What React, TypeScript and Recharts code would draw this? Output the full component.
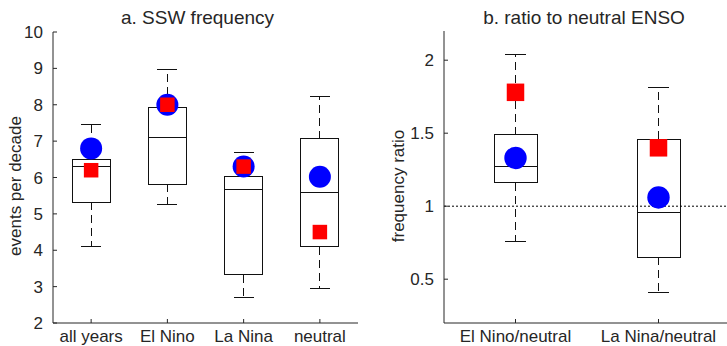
import React from "react"
import { ComposedChart, Bar, Scatter, XAxis, YAxis, ReferenceLine } from "recharts"

const FONT = '"Liberation Sans", Arial, Helvetica, sans-serif'
const INK = "#262626"

// a. SSW frequency (events per decade)
const groupsA = ["all years", "El Nino", "La Nina", "neutral"]
const lowA = [4.1, 5.27, 2.7, 2.95]
const q1A = [5.32, 5.82, 3.33, 4.1]
const medA = [6.3, 7.1, 5.68, 5.6]
const q3A = [6.5, 7.92, 6.02, 7.06]
const highA = [7.45, 8.97, 6.68, 8.23]
const circleA = [6.8, 8.0, 6.3, 6.02]
const squareA = [6.2, 8.0, 6.3, 4.5]
const ticksA = [2, 3, 4, 5, 6, 7, 8, 9, 10]

// b. ratio to neutral ENSO
const groupsB = ["El Nino/neutral", "La Nina/neutral"]
const lowB = [0.76, 0.41]
const q1B = [1.16, 0.65]
const medB = [1.27, 0.96]
const q3B = [1.49, 1.46]
const highB = [2.04, 1.81]
const circleB = [1.33, 1.06]
const squareB = [1.78, 1.4]
const ticksB = [0.5, 1, 1.5, 2]

function build(
  groups: string[], low: number[], q1: number[], med: number[],
  q3: number[], high: number[], circle: number[], square: number[]
) {
  return groups.map((group, i) => ({
    group,
    low: low[i],
    q1: q1[i],
    med: med[i],
    q3: q3[i],
    high: high[i],
    circle: circle[i],
    square: square[i],
  }))
}

const dataA = build(groupsA, lowA, q1A, medA, q3A, highA, circleA, squareA)
const dataB = build(groupsB, lowB, q1B, medB, q3B, highB, circleB, squareB)

// the bar spans low..high; inner values are placed on the same linear scale
function makeBox(capW: number) {
  return (p: any) => {
    const { x, y, width, height, payload } = p
    const { low, q1, med, q3, high } = payload
    const top = Math.min(y, y + height)
    const bottom = Math.max(y, y + height)
    const py = (v: number) => top + ((high - v) / (high - low)) * (bottom - top)
    const cx = x + width / 2
    return (
      <g stroke="#111" strokeWidth={1} shapeRendering="crispEdges">
        <line x1={cx} x2={cx} y1={py(q3)} y2={py(high)} strokeDasharray="8 5" />
        <line x1={cx} x2={cx} y1={py(q1)} y2={py(low)} strokeDasharray="8 5" />
        <line x1={cx - capW / 2} x2={cx + capW / 2} y1={py(high)} y2={py(high)} />
        <line x1={cx - capW / 2} x2={cx + capW / 2} y1={py(low)} y2={py(low)} />
        <rect x={x} y={py(q3)} width={width} height={py(q1) - py(q3)} fill="#fff" />
        <line x1={x} x2={x + width} y1={py(med)} y2={py(med)} />
      </g>
    )
  }
}

const dot = (r: number) => (p: any) => <circle cx={p.cx} cy={p.cy} r={r} fill="#0000ff" />
const square = (s: number) => (p: any) => (
  <rect x={p.cx - s / 2} y={p.cy - s / 2} width={s} height={s} fill="#ff0000" />
)

const LeftTick = (p: any) => (
  <g>
    <line x1={p.x} x2={p.x + 4} y1={p.y} y2={p.y} stroke={INK} />
    <text x={p.x - 10} y={p.y} dy="0.36em" textAnchor="end" fontSize={17} fill={INK} fontFamily={FONT}>
      {p.payload.value}
    </text>
  </g>
)
const RightTick = (p: any) => <line x1={p.x - 4} x2={p.x} y1={p.y} y2={p.y} stroke={INK} />
const BottomTick = (p: any) => (
  <g>
    <line x1={p.x} x2={p.x} y1={p.y} y2={p.y - 4} stroke={INK} />
    <text x={p.x} y={p.y + 19} textAnchor="middle" fontSize={17} fill={INK} fontFamily={FONT}>
      {p.payload.value}
    </text>
  </g>
)
const TopTick = (p: any) => <line x1={p.x} x2={p.x} y1={p.y} y2={p.y + 4} stroke={INK} />

function Panel(props: {
  data: any[]; ticks: number[]; domain: [number, number]; width: number
  margin: any; yWidth: number; barSize: number; capW: number
  dotR: number; sq: number; refLine?: number
}) {
  const { data, ticks, domain, width, margin, yWidth, barSize, capW, dotR, sq, refLine } = props
  const axisLine = { stroke: INK }
  return (
    <ComposedChart width={width} height={346} data={data} margin={margin}>
      <XAxis dataKey="group" height={23} tickSize={0} tickMargin={0} tickLine={false}
        axisLine={axisLine} tick={<BottomTick />} interval={0} />
      <XAxis dataKey="group" xAxisId="top" orientation="top" height={0} tickSize={0}
        tickMargin={0} tickLine={false} axisLine={axisLine} tick={<TopTick />} interval={0} />
      <YAxis domain={domain} ticks={ticks} width={yWidth} tickSize={0} tickMargin={0}
        tickLine={false} axisLine={axisLine} tick={<LeftTick />} allowDataOverflow />
      <YAxis yAxisId="right" orientation="right" domain={domain} ticks={ticks} width={0}
        tickSize={0} tickMargin={0} tickLine={false} axisLine={axisLine} tick={<RightTick />}
        allowDataOverflow />
      <Bar dataKey={(d: any) => [d.low, d.high]} barSize={barSize} shape={makeBox(capW)}
        isAnimationActive={false} />
      {refLine !== undefined && (
        <ReferenceLine y={refLine} stroke="#000" strokeDasharray="2 2" />
      )}
      <Scatter dataKey="circle" shape={dot(dotR)} isAnimationActive={false} />
      <Scatter dataKey="square" shape={square(sq)} isAnimationActive={false} />
    </ComposedChart>
  )
}

export default function App() {
  return (
    <div style={{ position: "fixed", left: 0, top: 0, width: 727, height: 346, overflow: "hidden", background: "#fff" }}>
      <div style={{ position: "absolute", left: 0, top: 0 }}>
        <Panel data={dataA} ticks={ticksA} domain={[2, 10]} width={364}
          margin={{ top: 32, right: 6, bottom: 0, left: 0 }} yWidth={53}
          barSize={38} capW={20} dotR={11} sq={14.5} />
      </div>
      <div style={{ position: "absolute", left: 364, top: 0 }}>
        <Panel data={dataB} ticks={ticksB} domain={[0.2, 2.2]} width={370}
          margin={{ top: 31, right: 4, bottom: 0, left: 0 }} yWidth={80}
          barSize={43} capW={21} dotR={11.2} sq={17.5} refLine={1} />
      </div>
      <svg width={727} height={346} style={{ position: "absolute", left: 0, top: 0, pointerEvents: "none" }}
        fontFamily={FONT} fill={INK}>
        <text x={197.5} y={23.5} fontSize={19} textAnchor="middle">a. SSW frequency</text>
        <text x={584} y={23.5} fontSize={19} textAnchor="middle">b. ratio to neutral ENSO</text>
        <text x={21} y={186} fontSize={17} textAnchor="middle" transform="rotate(-90 21 186)">
          events per decade
        </text>
        <text x={404} y={186} fontSize={17} textAnchor="middle" transform="rotate(-90 404 186)">
          frequency ratio
        </text>
      </svg>
    </div>
  )
}
